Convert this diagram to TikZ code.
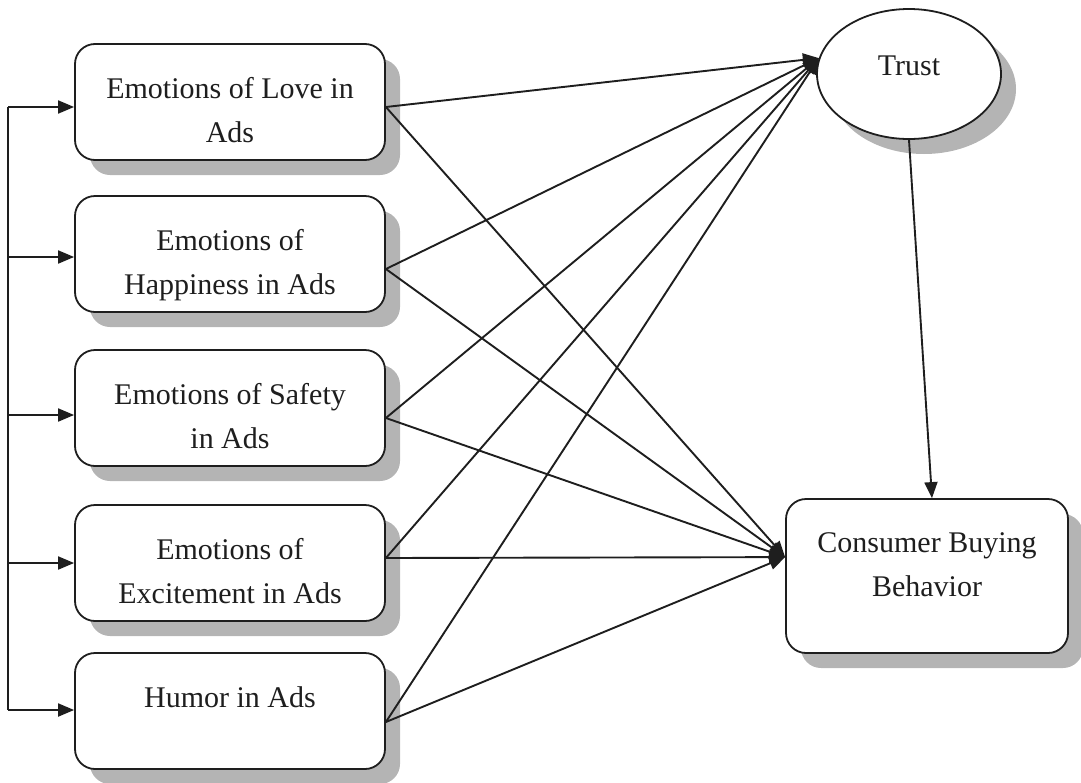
\documentclass[tikz,border=0pt]{standalone}
\usepackage{fontspec}
\setmainfont{Liberation Serif}
\usetikzlibrary{arrows.meta,shadows,calc,shapes.geometric}
\definecolor{shadowgray}{RGB}{180,180,180}
\definecolor{ink}{RGB}{30,30,30}
\begin{document}
\begin{tikzpicture}[x=1pt,y=-1pt,
  shadowed/.style={drop shadow={shadow xshift=15pt, shadow yshift=-15pt, fill=shadowgray, opacity=1}},
  box/.style={draw=ink, line width=1.8pt, rounded corners=20pt, fill=white, minimum width=310pt, minimum height=116pt, inner sep=0pt, shadowed},
  lbl/.style={font=\fontsize{30}{44}\selectfont, text=ink, align=center, inner sep=0pt, anchor=north},
  arr/.style={draw=ink, line width=1.9pt, -{Triangle[length=16pt,width=13pt]}},
  conn/.style={draw=ink, line width=1.9pt}]
\useasboundingbox (0,0) rectangle (1081,782);
% boxes
\node[box] (love) at (230,102) {};
\node[box] (happy) at (230,254) {};
\node[box] (safe) at (230,408) {};
\node[box] (excite) at (230,563) {};
\node[box] (humor) at (230,711) {};
\node[box, minimum width=282pt, minimum height=154pt] (cbb) at (927,576) {};
\node[draw=ink, line width=1.8pt, ellipse, fill=white, minimum width=184pt, minimum height=130pt, inner sep=0pt, shadowed] (trust) at (909,74) {};
% labels
\node[lbl] at ($(love.north)+(0,34)$) {Emotions of Love in\\Ads};
\node[lbl] at ($(happy.north)+(0,34)$) {Emotions of\\Happiness in Ads};
\node[lbl] at ($(safe.north)+(0,34)$) {Emotions of Safety\\in Ads};
\node[lbl] at ($(excite.north)+(0,34)$) {Emotions of\\Excitement in Ads};
\node[lbl] at ($(humor.north)+(0,34)$) {Humor in Ads};
\node[lbl] at ($(cbb.north)+(0,34)$) {Consumer Buying\\Behavior};
\node[lbl] at ($(trust.center)+(0,-18)$) {Trust};
% coordinates
\coordinate (tin) at (trust.170);
\coordinate (cin) at ($(cbb.north west)+(0,59)$);
\coordinate (o1) at ($(love.east)+(0,5)$);
\coordinate (o2) at ($(happy.east)+(0,15)$);
\coordinate (o3) at ($(safe.east)+(0,10)$);
\coordinate (o4) at ($(excite.east)+(0,-5)$);
\coordinate (o5) at ($(humor.east)+(0,11)$);
\coordinate (bustop) at (8,107);
\coordinate (busbot) at (8,710);
% bus
\draw[conn] (bustop) -- (busbot);
\draw[arr] (bustop) -- ($(love.west)+(0,5)$);
\draw[arr] ($(bustop |- happy.west)+(0,3)$) -- ($(happy.west)+(0,3)$);
\draw[arr] ($(bustop |- safe.west)+(0,7)$) -- ($(safe.west)+(0,7)$);
\draw[arr] (bustop |- excite.west) -- (excite.west);
\draw[arr] (busbot) -- (busbot -| humor.west);
% to trust and cbb
\foreach \o in {o1,o2,o3,o4,o5}{
  \draw[arr] (\o) -- (tin);
  \draw[arr] (\o) -- (cin);
}
\draw[arr] (trust.south) -- ($(cbb.north)+(5,0)$);
\end{tikzpicture}
\end{document}
